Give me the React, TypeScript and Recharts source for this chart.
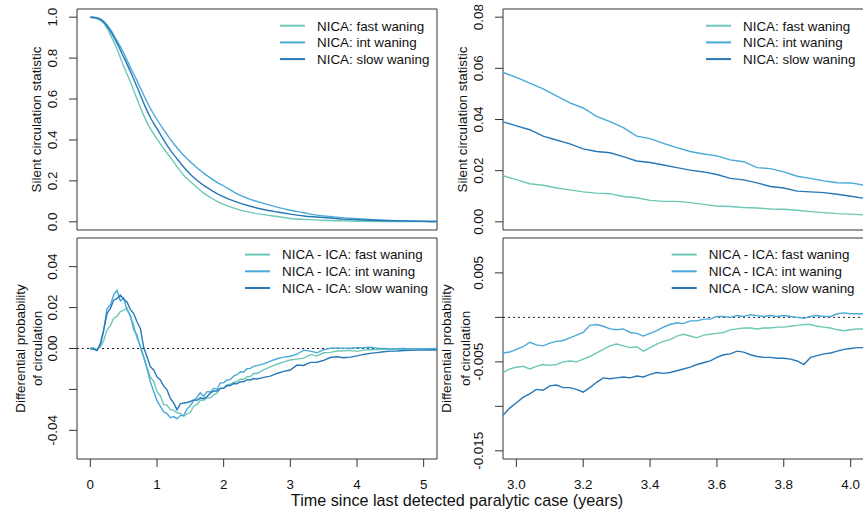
import React from "react"
import { LineChart, Line, XAxis, YAxis, ReferenceLine, ReferenceArea } from "recharts"

const FAST = "#6DC8B6"
const INT = "#49A9D9"
const SLOW = "#2878B8"
const COLORS = [FAST, INT, SLOW]
const FONT = "'Liberation Sans', Arial, Helvetica, sans-serif"
const INK = "#111"

const legendTop = ["NICA: fast waning", "NICA: int waning", "NICA: slow waning"]
const legendDiff = ["NICA - ICA: fast waning", "NICA - ICA: int waning", "NICA - ICA: slow waning"]

// silent circulation statistic, full time range
const topTimes = [0, 0.1, 0.2, 0.3, 0.4, 0.5, 0.6, 0.7, 0.8, 0.9, 1.0, 1.1, 1.2, 1.3, 1.4, 1.5, 1.6, 1.7, 1.8, 1.9, 2.0, 2.2, 2.4, 2.6, 2.8, 3.0, 3.2, 3.4, 3.6, 3.8, 4.0, 4.5, 5.0, 5.2]
const topFast = [1.0, 0.993, 0.97, 0.915, 0.845, 0.76, 0.685, 0.6, 0.52, 0.455, 0.405, 0.358, 0.315, 0.27, 0.228, 0.197, 0.168, 0.14, 0.119, 0.1, 0.085, 0.062, 0.046, 0.035, 0.026, 0.0165, 0.0117, 0.0084, 0.0062, 0.0049, 0.003, 0.0015, 0.0007, 0.0005]
const topInt = [1.0, 0.997, 0.98, 0.94, 0.885, 0.825, 0.755, 0.69, 0.62, 0.555, 0.5, 0.45, 0.403, 0.362, 0.325, 0.293, 0.264, 0.238, 0.215, 0.193, 0.175, 0.137, 0.11, 0.09, 0.072, 0.0565, 0.0445, 0.0325, 0.0258, 0.0195, 0.0152, 0.007, 0.003, 0.002]
const topSlow = [1.0, 0.996, 0.977, 0.932, 0.873, 0.805, 0.735, 0.66, 0.58, 0.51, 0.455, 0.4, 0.35, 0.308, 0.268, 0.233, 0.203, 0.178, 0.157, 0.138, 0.122, 0.096, 0.076, 0.06, 0.048, 0.0375, 0.0285, 0.0232, 0.0185, 0.0132, 0.01, 0.005, 0.002, 0.0015]

// silent circulation statistic, years 3-4
const zoomTimes = [2.96, 3.0, 3.04, 3.08, 3.12, 3.16, 3.2, 3.24, 3.28, 3.32, 3.36, 3.4, 3.44, 3.48, 3.52, 3.56, 3.6, 3.64, 3.68, 3.72, 3.76, 3.8, 3.84, 3.88, 3.92, 3.96, 4.0, 4.04]
const zoomFast = [0.018, 0.0165, 0.0149, 0.0143, 0.0132, 0.0125, 0.0117, 0.0112, 0.011, 0.0099, 0.0094, 0.0084, 0.008, 0.008, 0.0075, 0.0068, 0.0062, 0.006, 0.0056, 0.0054, 0.005, 0.0049, 0.0045, 0.004, 0.0036, 0.0032, 0.003, 0.0027]
const zoomInt = [0.0584, 0.0565, 0.0542, 0.052, 0.0492, 0.0465, 0.0445, 0.0412, 0.0392, 0.0368, 0.0335, 0.0325, 0.0307, 0.029, 0.0275, 0.0265, 0.0258, 0.0242, 0.0235, 0.0212, 0.0208, 0.0195, 0.0178, 0.017, 0.016, 0.0153, 0.0152, 0.0143]
const zoomSlow = [0.0391, 0.0375, 0.036, 0.0335, 0.032, 0.0305, 0.0285, 0.0275, 0.027, 0.0255, 0.0238, 0.0232, 0.0222, 0.0212, 0.0202, 0.0195, 0.0185, 0.017, 0.0164, 0.0152, 0.0138, 0.0132, 0.012, 0.0117, 0.0114, 0.0108, 0.01, 0.0092]

// differential probability, full time range
const diffTimes = [
  0, 0.05, 0.1, 0.15, 0.2, 0.25, 0.3, 0.35, 0.4, 0.45, 0.5, 0.55, 0.6, 0.65, 0.7, 0.75, 0.8, 0.85, 0.9, 0.95,
  1.0, 1.05, 1.1, 1.15, 1.2, 1.25, 1.3, 1.35, 1.4, 1.45, 1.5, 1.55, 1.6, 1.65, 1.7, 1.75, 1.8, 1.85, 1.9, 1.95,
  2.0, 2.05, 2.1, 2.15, 2.2, 2.25, 2.3, 2.35, 2.4, 2.45, 2.5,
  2.6, 2.7, 2.8, 2.9, 3.0, 3.1, 3.2, 3.3, 3.4, 3.5, 3.6, 3.7, 3.8, 3.9, 4.0, 4.1, 4.2, 4.3, 4.4, 4.5, 4.6, 4.7, 4.8, 4.9, 5.0, 5.1, 5.2,
]
const diffFast = [
  0, -0.0002, -0.0005, 0.0008, 0.0038, 0.009, 0.0112, 0.0148, 0.0157, 0.018, 0.0187, 0.0198, 0.0156, 0.0114, 0.005, 0.0014, -0.004, -0.0091, -0.0139, -0.0161,
  -0.021, -0.0231, -0.0274, -0.0277, -0.0299, -0.0301, -0.0314, -0.0317, -0.0331, -0.0319, -0.0313, -0.0282, -0.0273, -0.0252, -0.0253, -0.0242, -0.0241, -0.0227, -0.0218, -0.0195,
  -0.0193, -0.0177, -0.0175, -0.0165, -0.0161, -0.0149, -0.0151, -0.0138, -0.0137, -0.0122, -0.0122,
  -0.0104, -0.009, -0.0077, -0.0065, -0.0056, -0.0052, -0.0047, -0.003, -0.0036, -0.0021, -0.0019, -0.0012, -0.0011, -0.0009, -0.0014, -0.0008, -0.0006, -0.0005, -0.0004, -0.0004, -0.0003, -0.0003, -0.0002, -0.0002, -0.0001, -0.0001, -0.0001,
]
const diffInt = [
  0, 0.0002, -0.0008, 0.0012, 0.0085, 0.0195, 0.0212, 0.0262, 0.0284, 0.0232, 0.0248, 0.0188, 0.0162, 0.0092, 0.0066, 0.0008, -0.0042, -0.0098, -0.0162, -0.021,
  -0.0255, -0.0283, -0.031, -0.0318, -0.0338, -0.0333, -0.0344, -0.0328, -0.0327, -0.0296, -0.0279, -0.0256, -0.0238, -0.0216, -0.0234, -0.0211, -0.0212, -0.0194, -0.0199, -0.0168,
  -0.0168, -0.0154, -0.0152, -0.0135, -0.0128, -0.0114, -0.0115, -0.0099, -0.0097, -0.0087, -0.0084,
  -0.0075, -0.0062, -0.005, -0.0042, -0.0038, -0.0028, -0.0008, -0.0013, -0.0021, -0.0006, 0.0001, 0.0003, 0.0002, 0.0001, 0.0004, 0.0004, 0.0006, 0.0002, 0, -0.0002, -0.0001, 0, -0.0002, -0.0001, -0.0002, -0.0001, 0,
]
const diffSlow = [
  0, -0.0003, -0.001, 0.0024, 0.0091, 0.0171, 0.0196, 0.0236, 0.0244, 0.0261, 0.0241, 0.0228, 0.0191, 0.0171, 0.0131, 0.0098, 0.0006, -0.004, -0.0089, -0.0105,
  -0.0139, -0.0154, -0.0184, -0.0202, -0.0244, -0.0266, -0.0299, -0.0271, -0.0266, -0.0264, -0.0259, -0.0251, -0.0253, -0.0241, -0.0245, -0.0236, -0.0218, -0.0207, -0.0208, -0.0195,
  -0.0195, -0.0182, -0.0181, -0.0171, -0.0172, -0.0162, -0.0163, -0.0152, -0.0154, -0.0147, -0.0149,
  -0.0141, -0.0135, -0.0122, -0.0112, -0.0105, -0.0081, -0.0083, -0.0068, -0.0067, -0.0058, -0.0044, -0.004, -0.0045, -0.0042, -0.0036, -0.0029, -0.0024, -0.002, -0.0016, -0.0013, -0.0012, -0.001, -0.0009, -0.0008, -0.0008, -0.0007, -0.0007,
]

// differential probability, years 3-4
const diffZoomTimes = [
  2.96, 2.98, 3.0, 3.02, 3.04, 3.06, 3.08, 3.1, 3.12, 3.14, 3.16, 3.18, 3.2, 3.22, 3.24, 3.26, 3.28, 3.3, 3.32, 3.34,
  3.36, 3.38, 3.4, 3.42, 3.44, 3.46, 3.48, 3.5, 3.52, 3.54, 3.56, 3.58, 3.6, 3.62, 3.64, 3.66, 3.68, 3.7, 3.72, 3.74,
  3.76, 3.78, 3.8, 3.82, 3.84, 3.86, 3.88, 3.9, 3.92, 3.94, 3.96, 3.98, 4.0, 4.02, 4.04,
]
const diffZoomFast = [
  -0.0062, -0.0058, -0.0056, -0.0055, -0.0058, -0.0055, -0.0053, -0.0054, -0.0053, -0.005, -0.0049, -0.005, -0.0047, -0.0044, -0.004, -0.0036, -0.0032, -0.003, -0.0032, -0.0034,
  -0.0033, -0.0038, -0.0034, -0.003, -0.0027, -0.0025, -0.0021, -0.0019, -0.0021, -0.0023, -0.002, -0.0019, -0.0018, -0.0017, -0.0014, -0.0013, -0.0012, -0.0012, -0.0013, -0.0012,
  -0.0012, -0.0011, -0.0011, -0.001, -0.0009, -0.0008, -0.0008, -0.001, -0.0011, -0.0012, -0.0014, -0.0015, -0.0014, -0.0013, -0.0013,
]
const diffZoomInt = [
  -0.004, -0.0039, -0.0036, -0.0033, -0.0028, -0.0031, -0.0032, -0.0029, -0.0027, -0.0026, -0.0023, -0.002, -0.0017, -0.0009, -0.0008, -0.001, -0.0013, -0.0014, -0.0013, -0.0017,
  -0.0018, -0.0021, -0.0018, -0.0015, -0.0011, -0.0008, -0.0006, -0.0007, -0.0004, -0.0004, -0.0002, -0.0002, 0.0001, 0.0001, 0, 0.0002, 0.0001, 0.0003, 0.0002, 0.0001,
  0.0002, 0.0001, 0.0002, 0.0001, 0, -0.0001, 0.0001, 0.0002, 0.0001, 0.0001, 0.0004, 0.0005, 0.0004, 0.0004, 0.0004,
]
const diffZoomSlow = [
  -0.011, -0.0102, -0.0096, -0.009, -0.0086, -0.0081, -0.0082, -0.0077, -0.0076, -0.0079, -0.0079, -0.0081, -0.0084, -0.0079, -0.0073, -0.0068, -0.0069, -0.0068, -0.0067, -0.0068,
  -0.0066, -0.0067, -0.0064, -0.0062, -0.0063, -0.0062, -0.006, -0.0058, -0.0056, -0.0053, -0.0051, -0.0049, -0.0045, -0.0042, -0.0041, -0.0038, -0.0039, -0.0042, -0.0044, -0.0045,
  -0.0045, -0.0046, -0.0046, -0.0047, -0.0049, -0.0053, -0.0045, -0.0043, -0.0041, -0.004, -0.0038, -0.0036, -0.0035, -0.0034, -0.0034,
]

const rows = (t: number[], f: number[], i: number[], s: number[]) =>
  t.map((x, k) => ({ t: x, fast: f[k], int: i[k], slow: s[k] }))

const textStyle = { fontFamily: FONT, fontSize: 13.4, fill: INK }

const yTick = (digits: number, hidden: number[] = []) => (props: any) => {
  const { x, y, payload } = props
  if (hidden.some((h) => Math.abs(h - payload.value) < 1e-9)) return <g />
  return (
    <text transform={`translate(${x - 17},${y}) rotate(-90)`} textAnchor="middle" dy="0.35em" style={textStyle}>
      {payload.value.toFixed(digits)}
    </text>
  )
}

const xTick = (digits: number) => (props: any) => {
  const { x, y, payload } = props
  return (
    <text x={x} y={y} dy={22} textAnchor="middle" style={textStyle}>
      {payload.value.toFixed(digits)}
    </text>
  )
}

type PanelProps = {
  left: number
  top: number
  width: number
  height: number
  data: any[]
  xDomain: [number, number]
  yDomain: [number, number]
  yTicks: number[]
  yDigits: number
  yHidden?: number[]
  yWidth: number
  xTicks?: number[]
  xDigits?: number
  marginTop: number
  marginBottom: number
  marginRight: number
  zeroLine?: boolean
  smooth?: boolean
}

function Panel(p: PanelProps) {
  const showX = !!p.xTicks
  return (
    <div style={{ position: "absolute", left: p.left, top: p.top }}>
      <LineChart
        width={p.width}
        height={p.height}
        data={p.data}
        margin={{ top: p.marginTop, right: p.marginRight, bottom: showX ? 0 : p.marginBottom, left: 0 }}
      >
        <XAxis
          dataKey="t"
          type="number"
          domain={p.xDomain}
          allowDataOverflow
          hide={!showX}
          height={showX ? p.marginBottom : 0}
          ticks={p.xTicks}
          interval={0}
          axisLine={false}
          tickSize={8}
          tickMargin={0}
          tickLine={{ stroke: "#333" }}
          tick={xTick(p.xDigits ?? 0)}
        />
        <YAxis
          type="number"
          domain={p.yDomain}
          allowDataOverflow
          width={p.yWidth}
          ticks={p.yTicks}
          interval={0}
          axisLine={false}
          tickSize={8}
          tickMargin={0}
          tickLine={{ stroke: "#333" }}
          tick={yTick(p.yDigits, p.yHidden)}
        />
        <ReferenceArea
          x1={p.xDomain[0]}
          x2={p.xDomain[1]}
          y1={p.yDomain[0]}
          y2={p.yDomain[1]}
          fill="none"
          stroke="#333"
          strokeWidth={1}
          ifOverflow="visible"
        />
        {p.zeroLine && <ReferenceLine y={0} stroke="#222" strokeDasharray="2 3" strokeWidth={1} />}
        {["fast", "int", "slow"].map((k, i) => (
          <Line
            key={k}
            dataKey={k}
            type={p.smooth ? "monotone" : "linear"}
            stroke={COLORS[i]}
            strokeWidth={1.4}
            dot={false}
            isAnimationActive={false}
          />
        ))}
      </LineChart>
    </div>
  )
}

function Legend({ x, y, labels }: { x: number; y: number; labels: string[] }) {
  return (
    <g>
      {labels.map((label, i) => (
        <g key={label}>
          <line x1={x} x2={x + 25} y1={y + i * 16.7} y2={y + i * 16.7} stroke={COLORS[i]} strokeWidth={2} />
          <text x={x + 37} y={y + i * 16.7} dy="0.36em" style={textStyle}>
            {label}
          </text>
        </g>
      ))}
    </g>
  )
}

function YTitle({ x, y, text }: { x: number; y: number; text: string }) {
  return (
    <text transform={`translate(${x},${y}) rotate(-90)`} textAnchor="middle" dy="0.35em" style={textStyle}>
      {text}
    </text>
  )
}

export default function App() {
  return (
    <div style={{ position: "absolute", left: 0, top: 0, width: 863, height: 512, overflow: "hidden", background: "#fff" }}>
      <Panel
        left={0} top={0} width={440} height={236}
        data={rows(topTimes, topFast, topInt, topSlow)}
        xDomain={[-0.2, 5.2]} yDomain={[-0.04, 1.04]}
        yTicks={[0, 0.2, 0.4, 0.6, 0.8, 1.0]} yDigits={1} yWidth={77}
        marginTop={9} marginBottom={6} marginRight={3} smooth
      />
      <Panel
        left={440} top={0} width={424} height={236}
        data={rows(zoomTimes, zoomFast, zoomInt, zoomSlow)}
        xDomain={[2.96, 4.04]} yDomain={[-0.0032, 0.0832]}
        yTicks={[0, 0.02, 0.04, 0.06, 0.08]} yDigits={2} yWidth={63}
        marginTop={9} marginBottom={6} marginRight={0}
      />
      <Panel
        left={0} top={236} width={440} height={276}
        data={rows(diffTimes, diffFast, diffInt, diffSlow)}
        xDomain={[-0.2, 5.2]} yDomain={[-0.054, 0.054]}
        yTicks={[-0.04, -0.02, 0, 0.02, 0.04]} yDigits={2} yHidden={[-0.02]} yWidth={77}
        xTicks={[0, 1, 2, 3, 4, 5]} xDigits={0}
        marginTop={2} marginBottom={53} marginRight={3} zeroLine
      />
      <Panel
        left={440} top={236} width={424} height={276}
        data={rows(diffZoomTimes, diffZoomFast, diffZoomInt, diffZoomSlow)}
        xDomain={[2.96, 4.04]} yDomain={[-0.01592, 0.00892]}
        yTicks={[-0.015, -0.01, -0.005, 0, 0.005]} yDigits={3} yHidden={[0, -0.01]} yWidth={63}
        xTicks={[3, 3.2, 3.4, 3.6, 3.8, 4.0]} xDigits={1}
        marginTop={2} marginBottom={53} marginRight={0} zeroLine
      />
      <svg width={863} height={512} style={{ position: "absolute", left: 0, top: 0, pointerEvents: "none" }}>
        <Legend x={280} y={25.7} labels={legendTop} />
        <Legend x={706} y={25.7} labels={legendTop} />
        <Legend x={245} y={254.6} labels={legendDiff} />
        <Legend x={671.7} y={254.6} labels={legendDiff} />
        <YTitle x={36} y={119.5} text="Silent circulation statistic" />
        <YTitle x={462} y={119.5} text="Silent circulation statistic" />
        <YTitle x={20} y={348.5} text="Differential probability" />
        <YTitle x={37.5} y={348.5} text="of circulation" />
        <YTitle x={446.7} y={348.5} text="Differential probability" />
        <YTitle x={465} y={348.5} text="of circulation" />
        <text x={457} y={505.5} textAnchor="middle" style={{ fontFamily: FONT, fontSize: 16.2, fill: INK }}>
          Time since last detected paralytic case (years)
        </text>
      </svg>
    </div>
  )
}
